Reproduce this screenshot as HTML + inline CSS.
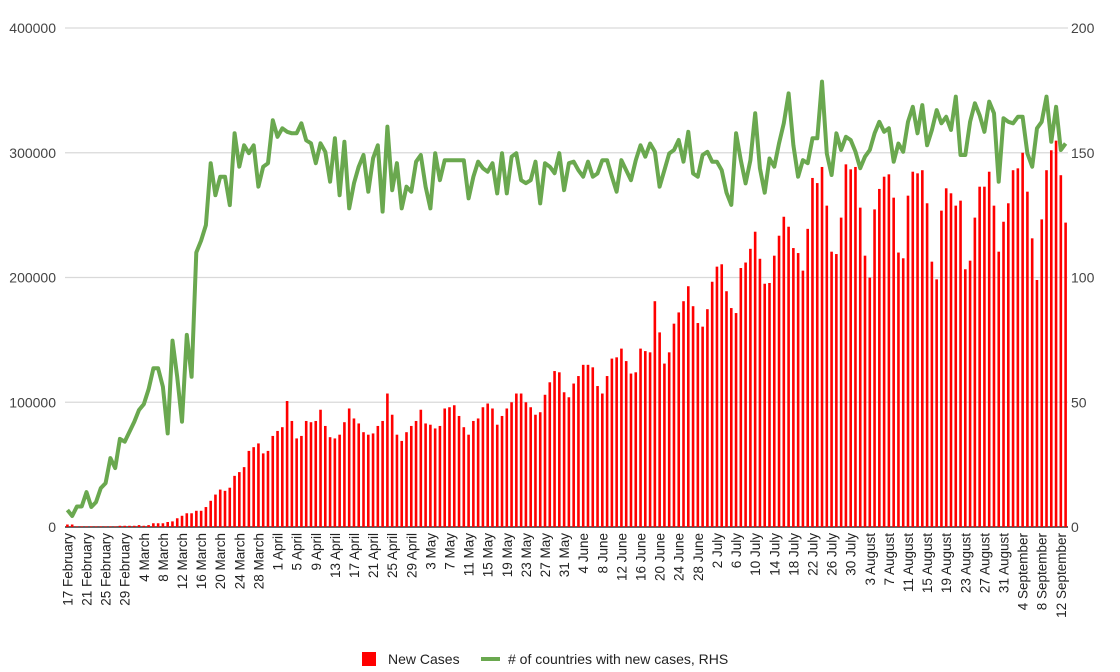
<!DOCTYPE html>
<html><head><meta charset="utf-8"><style>
body{margin:0;background:#fff;}
svg{display:block;font-family:"Liberation Sans",Arial,sans-serif;}
</style></head><body>
<svg id="chart" width="1120" height="672" viewBox="0 0 1120 672" xmlns="http://www.w3.org/2000/svg">
<g id="grid"></g>
<g id="bars"></g>
<g id="line"></g>
<g id="yl"></g>
<g id="yr"></g>
<g id="xl"></g>
<g>
<rect x="362" y="652" width="14" height="14" fill="#ff0000"/>
<text x="388" y="664" font-size="14" fill="#222">New Cases</text>
<line x1="481" y1="659" x2="500" y2="659" stroke="#6aa84f" stroke-width="4"/>
<text x="508" y="664" font-size="14" fill="#222"># of countries with new cases, RHS</text>
</g>
</svg>
<script>
// New cases, thousands, daily from 17 February
const newCasesK = [2,2,0.5,0.5,0.5,0.5,0.5,0.5,0.5,0.5,0.5,1,1,1,1,1.5,1,1.5,3,3,3,4,4.5,
7,9,11,11,13,13,16,21,26,30,29,31.5,41,44,48,61,64,67,59,61,73,77,80,101,85,71,73,85,
84,85,94,81,72,71,74,84,95,87,83,76,74,75,81,85,107,90,74,69,76,81,85,94,83,82,79,81,95,96,97.6,89,80,74,85,87,96,99,95,82,89,95,100,107,107,100,96,90,92,106,116,125,124,108,
104,115,121,130,130,128,113,107,121,135,136,143,133,123,124,143,141,140,181,156,131,140,163,172,181,193,177,163.5,160.6,174.6,196.6,208.7,210.6,189,175.5,171.5,207.6,212,223,236.7,215,195,195.6,217.5,233.5,248.7,240.7,223.6,219.6,205.5,239,
279.8,275.7,288.6,257.6,220.7,218.8,248,290.7,286.7,288.6,256,217.5,199.9,254.6,271,280.8,282.7,264,220,215.4,265.6,284.8,283.5,286,259.5,212.7,198.5,253.6,271.5,267.5,257.6,261.6,206.6,213.5,248,272.8,272.8,284.8,257.6,220.7,244.7,259.5,286,287.5,300,268.8,231.4,198,246.6,286,302,309.7,282,244];
// Countries with new cases (RHS)
const countries = [6.8,4.4,8.2,8.2,14,8,10,15.6,17.6,27.6,23.6,35.3,34.2,38.2,42.2,46.9,49.2,55.2,63.6,63.6,56.2,37.5,74.7,60.2,42.2,77,60.2,110,114.8,121,145.8,133,140.4,140.4,129,157.8,144.4,153,149.8,153,136.4,144.4,145.8,163,156.4,159.8,158.4,157.8,157.8,161.8,155,
153.8,145.8,153.8,150.4,138.4,155.8,133,154.4,127.7,137.8,144.4,149.1,134.4,147.8,153,126.4,160.5,135,145.8,127.7,136.4,134.4,146.4,149.1,136.4,127.7,149.8,139,147,147,147,147,147,131.7,140.4,146.4,143.8,142.4,145.8,133.7,149.8,133.7,148.4,149.8,139,137.8,139,146.4,129.7,145.8,144.4,141.8,149.8,135,145.8,
146.4,143,140.4,146.4,140.4,141.7,147,147,140.4,134.4,147,143,139,147,153,148.4,153.7,150.4,136.4,143,149.7,151.1,155.1,146.4,158.4,141.7,140.4,149.1,150.4,146.4,146.4,143,134,129.1,157.8,147,137.7,147,165.8,143.8,134,147.7,144.4,153.7,161.8,173.8,153,140.4,147,145.8,
155.8,155.8,178.5,149.7,141.1,157.8,151.1,156.4,155.1,150.4,143.8,148.4,151.1,157.8,162.4,158.4,159.8,146.4,153.7,150.4,162.4,168.4,157.8,169.1,153,159.1,167.1,161.8,164.4,159.1,172.5,149.1,149.1,162.4,169.8,165.1,158.4,170.5,165.8,138.4,163.8,162.4,161.8,164.4,164.4,149.7,144.4,159.8,162.4,172.5,154.4,168.4,151.1,153.7];
const leftTicks = [0,100000,200000,300000,400000];
const rightTicks = [0,50,100,150,200];
const startDate = [2020,1,17];
const labelEvery = 4;

const NS="http://www.w3.org/2000/svg";
const X0=65,X1=1068,Y0=527,Y1=28;
const n=newCasesK.length;
const band=(X1-X0)/n;
const xc=i=>X0+band*(i+0.5);
const yL=v=>Y0-(v/400000)*(Y0-Y1);
const yR=v=>Y0-(v/200)*(Y0-Y1);
function mk(t,a,p){const e=document.createElementNS(NS,t);for(const k in a)e.setAttribute(k,a[k]);p.appendChild(e);return e;}
const grid=document.getElementById('grid'),yl=document.getElementById('yl'),yr=document.getElementById('yr');
leftTicks.forEach((v,i)=>{
  const g=mk('line',{x1:X0,x2:X1,y1:yL(v),y2:yL(v),stroke:i==0?'#333':'#d9d9d9','stroke-width':i==0?1.5:1.3},grid);
  
  
  const t=mk('text',{x:56,y:yL(v)+5,'text-anchor':'end','font-size':14,fill:'#444'},yl);t.textContent=v;
  
  
});
rightTicks.forEach(v=>{
  const t=mk('text',{x:1071,y:yR(v)+5,'font-size':14,fill:'#444'},yr);t.textContent=v;
  
  
});
const bars=document.getElementById('bars');
newCasesK.forEach((v,i)=>{
  const y=yL(v*1000);
  const r=mk('rect',{x:xc(i)-1.3,y:y,width:2.6,height:Y0-y,fill:'#ff0000'},bars);
  
  
});
const pts=countries.map((v,i)=>xc(i).toFixed(1)+','+yR(v).toFixed(1)).join(' ');
const pl=mk('polyline',{points:pts,fill:'none',stroke:'#6aa84f','stroke-width':4,'stroke-linejoin':'round'},document.getElementById('line'));


const xl=document.getElementById('xl');
const months=['January','February','March','April','May','June','July','August','September','October'];
for(let i=0;i<n;i+=labelEvery){
  const d=new Date(startDate[0],startDate[1],startDate[2]+i);
  const x=xc(i)+5;
  const t=mk('text',{x:x,y:533,'text-anchor':'end','font-size':13.5,fill:'#222',transform:`rotate(-90 ${x} 533)`},xl);
  t.textContent=d.getDate()+' '+months[d.getMonth()];
  
  
}
</script>
</body></html>
